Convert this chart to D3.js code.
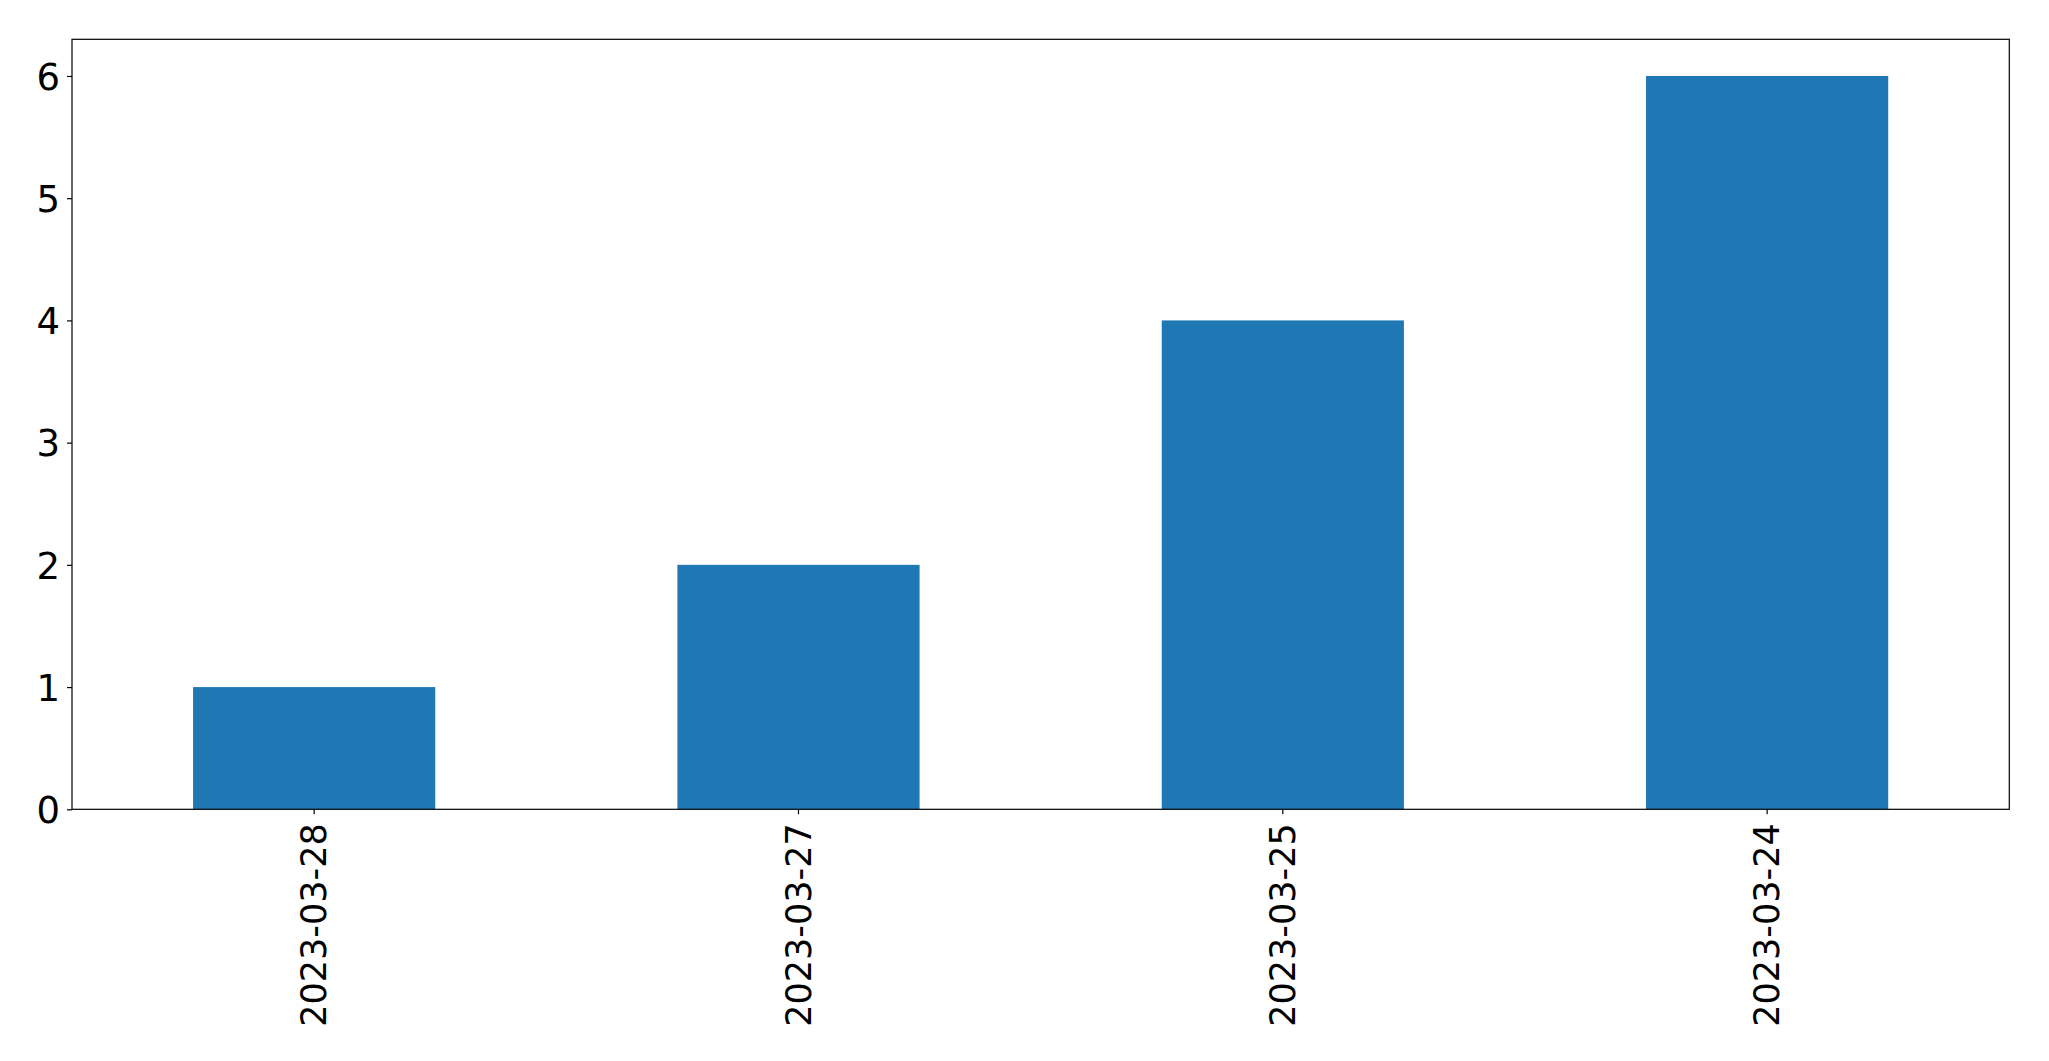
<!DOCTYPE html>
<html>
<head>
<meta charset="utf-8">
<script src="https://cdn.jsdelivr.net/npm/d3@7"></script>
<style>
body{margin:0;background:#fff;}
text{font-family:"DejaVu Sans",sans-serif;}
</style>
</head>
<body>
<div id="chart"></div>
<script>
var W = 2049, H = 1061;
var margin = {top: 39.3, right: 40, bottom: 252, left: 72};
var w = 2009.3 - margin.left;
var h = 809.3 - margin.top;

// data
var dates = ["2023-03-28", "2023-03-27", "2023-03-25", "2023-03-24"];
var counts = [1, 2, 4, 6];
var yTicks = [0, 1, 2, 3, 4, 5, 6];

var svg = d3.select("#chart").append("svg")
	.attr("width", W)
	.attr("height", H);

var g = svg.append("g")
	.attr("transform", "translate(" + margin.left + "," + margin.top + ")");

var x = d3.scaleBand().domain(dates).range([0, w]).paddingInner(0.5).paddingOuter(0.25);
var y = d3.scaleLinear().domain([0, 6.3]).range([h, 0]);

g.selectAll("rect.bar")
	.data(dates)
	.enter().append("rect")
	.attr("class", "bar")
	.attr("x", function(d){return x(d)})
	.attr("width", x.bandwidth())
	.attr("y", function(d,i){return y(counts[i])})
	.attr("height", function(d,i){return y(0) - y(counts[i])})
	.attr("fill", "#1f77b4");

// frame
g.append("rect")
	.attr("x", 0).attr("y", 0)
	.attr("width", w).attr("height", h)
	.attr("fill", "none")
	.attr("stroke", "#000")
	.attr("stroke-width", 1.2);

var yAxis = g.append("g")
	.call(d3.axisLeft(y).tickValues(yTicks).tickFormat(d3.format("d")).tickSize(5).tickPadding(7));
yAxis.select(".domain").remove();
yAxis.selectAll("line").attr("stroke", "#000").attr("stroke-width", 1.2);
yAxis.selectAll("text").style("font-size", "37px").attr("fill", "#000").attr("dy", "0.36em");

var xAxis = g.append("g")
	.attr("transform", "translate(0," + h + ")")
	.call(d3.axisBottom(x).tickSize(5).tickPadding(0));
xAxis.select(".domain").remove();
xAxis.selectAll("line").attr("stroke", "#000").attr("stroke-width", 1.2);
xAxis.selectAll("text")
	.style("font-size", "35px")
	.attr("fill", "#000")
	.attr("text-anchor", "end")
	.attr("transform", "rotate(-90)")
	.attr("x", -14)
	.attr("y", 0)
	.attr("dy", "0.35em");
</script>
</body>
</html>
